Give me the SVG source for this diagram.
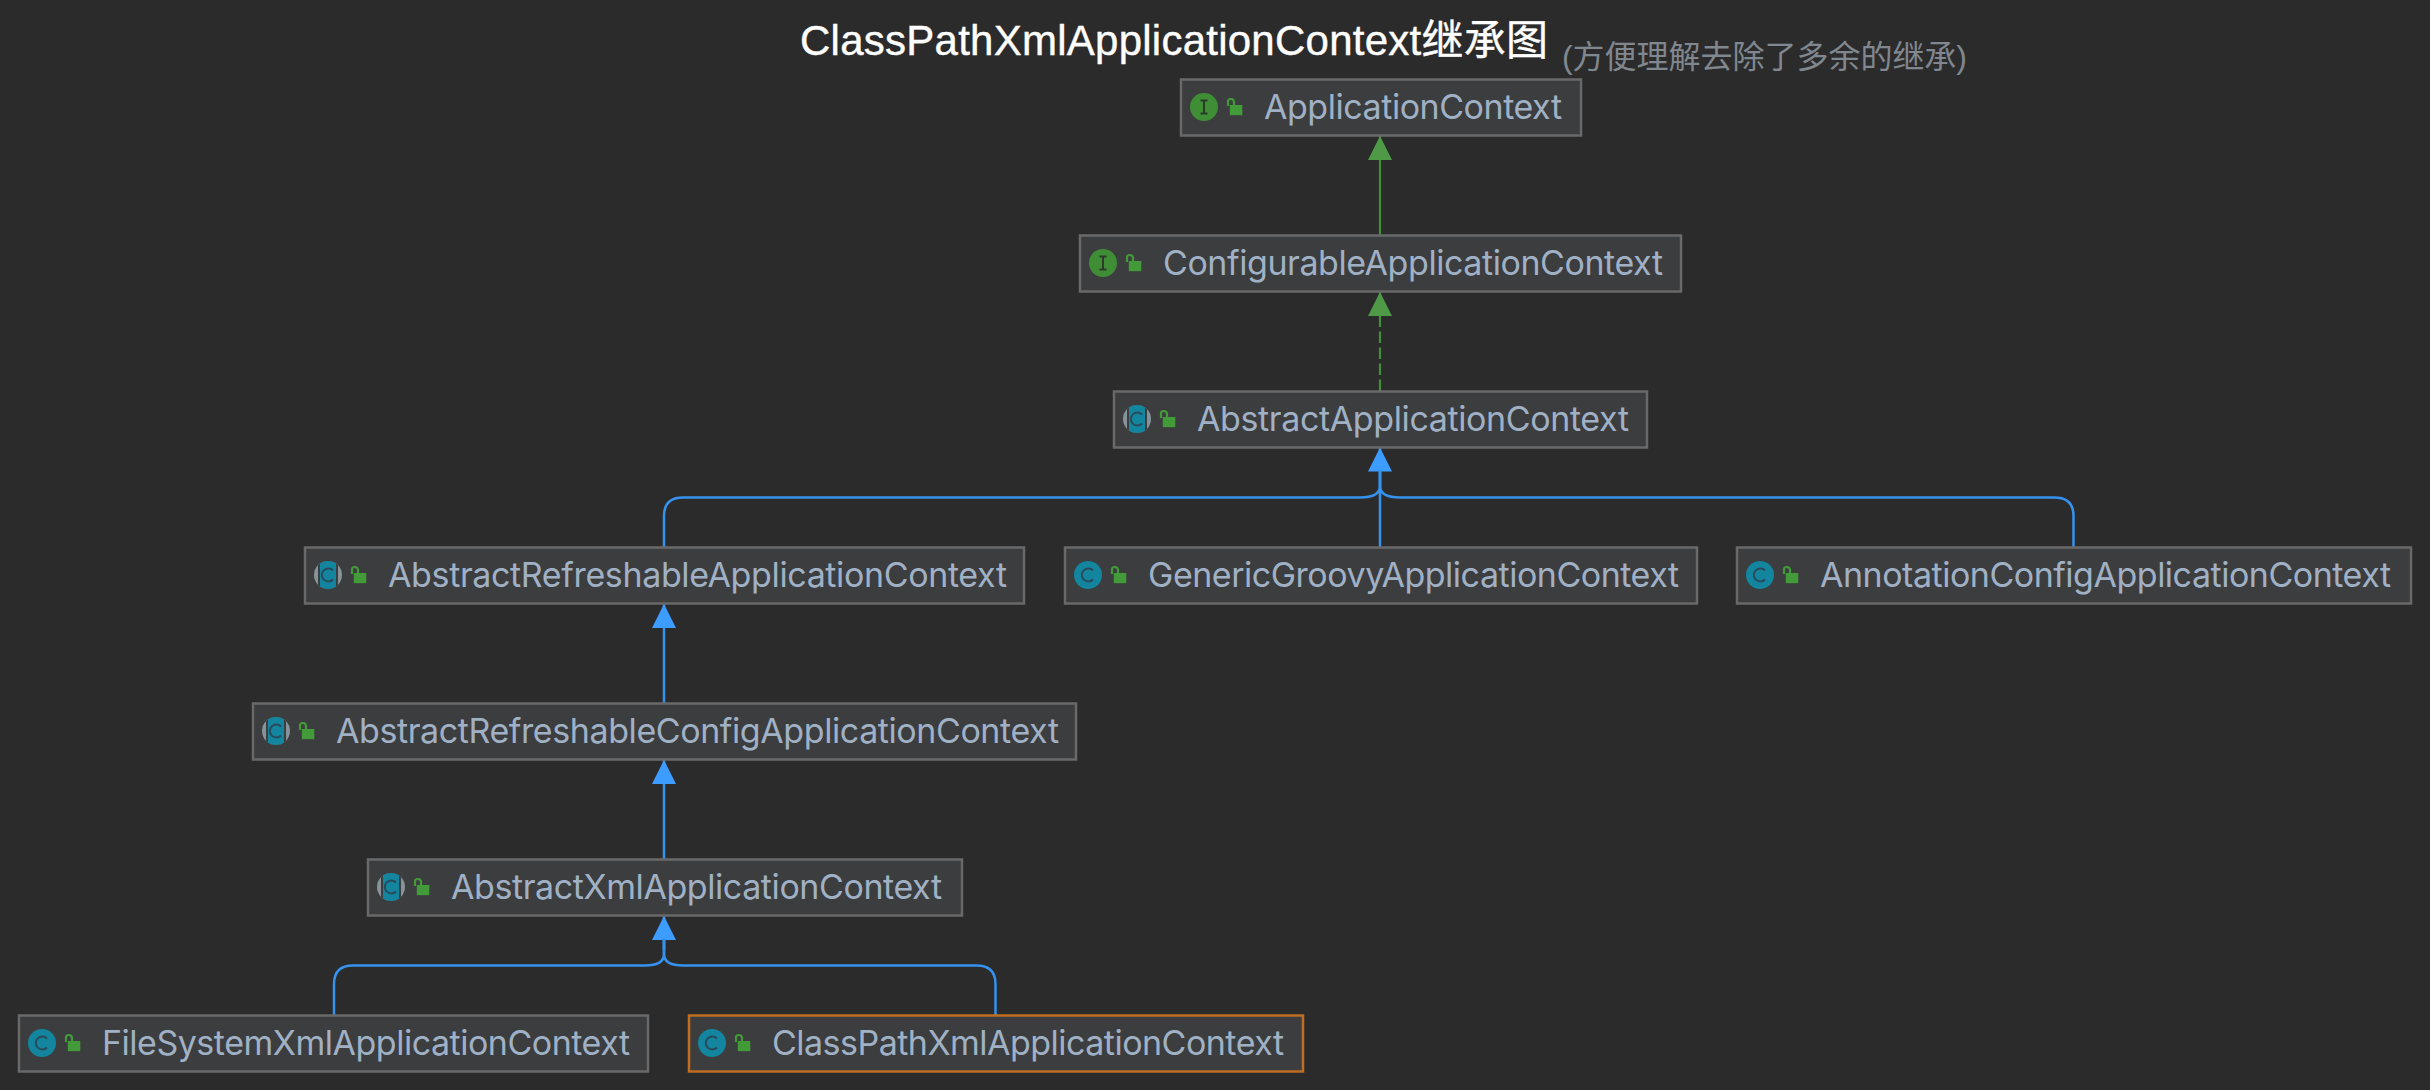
<svg xmlns="http://www.w3.org/2000/svg" xmlns:xlink="http://www.w3.org/1999/xlink" width="2430" height="1090" viewBox="0 0 2430 1090">
<style>
.box{fill:#3c3d3e;stroke:#69696a;stroke-width:2.5}
.sel{stroke:#bf6d20}
.lbl{font-family:Inter,"Noto Sans",sans-serif;font-size:34px;fill:#a0b1c5}
.blue{fill:none;stroke:#3592ee;stroke-width:2.5}
.green{fill:none;stroke:#438f3a;stroke-width:2.2}
.dash{stroke-dasharray:11.5 4.5}
</style>
<defs>
<clipPath id="cc"><circle cx="0" cy="0" r="14"/></clipPath>
<marker id="ab" markerUnits="userSpaceOnUse" markerWidth="24" markerHeight="24" refX="24" refY="12" orient="auto"><path d="M0 0L24 12L0 24Z" fill="#3d9cff"/></marker>
<marker id="ag" markerUnits="userSpaceOnUse" markerWidth="24" markerHeight="24" refX="24" refY="12" orient="auto"><path d="M0 0L24 12L0 24Z" fill="#4f9a47"/></marker>
<g id="lock"><rect x="25.8" y="-2" width="12.5" height="10.2" fill="#429a38"/><path d="M24 -1V-5.5Q24-8 26.8-8T30-5.5V-2" fill="none" stroke="#429a38" stroke-width="2.2"/></g>
<g id="ic-i"><circle r="14" fill="#3f8e36"/><path d="M-3.5-6.5H3.5M-3.5 6.5H3.5M0-6.5V6.5" stroke="#2c3a2a" stroke-width="2" fill="none"/><use href="#lock"/></g>
<g id="ic-c"><circle r="14" fill="#13859f"/><path d="M5-4.5A6.5 6.5 0 1 0 5 4.5" stroke="#2a4a5a" stroke-width="2" fill="none"/><use href="#lock"/></g>
<g id="ic-a"><circle r="14" fill="#87939a"/><g clip-path="url(#cc)"><rect x="-10" y="-14" width="20" height="28" fill="#3c3d3e"/><rect x="-8" y="-14" width="16" height="28" fill="#13859f"/></g><path d="M5-4.5A6.5 6.5 0 1 0 5 4.5" stroke="#2a4a5a" stroke-width="2" fill="none"/><use href="#lock"/></g>
</defs>
<rect width="2430" height="1090" fill="#2b2b2b"/>
<g id="title">
<text x="800" y="55" font-family="'Liberation Sans','Noto Sans CJK SC',sans-serif" font-size="42" fill="#ffffff" stroke="#ffffff" stroke-width="0.4" textLength="748" lengthAdjust="spacing">ClassPathXmlApplicationContext继承图</text>
<text x="1562" y="68" font-family="'Liberation Sans','Noto Sans CJK SC',sans-serif" font-size="32" fill="#80878f" textLength="405" lengthAdjust="spacing">(方便理解去除了多余的继承)</text>
</g>
<g id="connectors">
<path class="green" marker-end="url(#ag)" d="M1380 235V136"/>
<path class="green dash" marker-end="url(#ag)" d="M1380 391V292"/>
<path class="blue" marker-end="url(#ab)" d="M1380 547V447.5"/>
<path class="blue" d="M664 547V516Q664 497.5 683 497.5H1360Q1380 497.5 1380 486V470"/>
<path class="blue" d="M2073.5 547V516Q2073.5 497.5 2054.5 497.5H1400Q1380 497.5 1380 486V470"/>
<path class="blue" marker-end="url(#ab)" d="M664 703V604"/>
<path class="blue" marker-end="url(#ab)" d="M664 859V760"/>
<path class="blue" marker-end="url(#ab)" d="M664 950V916"/>
<path class="blue" d="M334 1015V984Q334 965.5 353 965.5H645Q664 965.5 664 954V938"/>
<path class="blue" d="M995.5 1015V984Q995.5 965.5 976.5 965.5H683Q664 965.5 664 954V938"/>
</g>
<g id="n-applicationcontext"><rect class="box" x="1181" y="79.5" width="400" height="56"/><use href="#ic-i" x="1204" y="107"/><text class="lbl" x="1264" y="118.5" textLength="298" lengthAdjust="spacing">ApplicationContext</text></g>
<g id="n-configurable"><rect class="box" x="1080" y="235.5" width="601" height="56"/><use href="#ic-i" x="1103" y="263"/><text class="lbl" x="1163" y="274.5" textLength="500" lengthAdjust="spacing">ConfigurableApplicationContext</text></g>
<g id="n-abstract"><rect class="box" x="1114" y="391.5" width="533" height="56"/><use href="#ic-a" x="1137" y="419"/><text class="lbl" x="1197" y="430.5" textLength="432" lengthAdjust="spacing">AbstractApplicationContext</text></g>
<g id="n-refreshable"><rect class="box" x="305" y="547.5" width="719" height="56"/><use href="#ic-a" x="328" y="575"/><text class="lbl" x="388" y="586.5" textLength="619" lengthAdjust="spacing">AbstractRefreshableApplicationContext</text></g>
<g id="n-groovy"><rect class="box" x="1065" y="547.5" width="632" height="56"/><use href="#ic-c" x="1088" y="575"/><text class="lbl" x="1148" y="586.5" textLength="531" lengthAdjust="spacing">GenericGroovyApplicationContext</text></g>
<g id="n-annotation"><rect class="box" x="1737" y="547.5" width="674" height="56"/><use href="#ic-c" x="1760" y="575"/><text class="lbl" x="1820" y="586.5" textLength="571" lengthAdjust="spacing">AnnotationConfigApplicationContext</text></g>
<g id="n-refreshableconfig"><rect class="box" x="253" y="703.5" width="823" height="56"/><use href="#ic-a" x="276" y="731"/><text class="lbl" x="336" y="742.5" textLength="723" lengthAdjust="spacing">AbstractRefreshableConfigApplicationContext</text></g>
<g id="n-xml"><rect class="box" x="368" y="859.5" width="594" height="56"/><use href="#ic-a" x="391" y="887"/><text class="lbl" x="451" y="898.5" textLength="491" lengthAdjust="spacing">AbstractXmlApplicationContext</text></g>
<g id="n-filesystem"><rect class="box" x="19" y="1015.5" width="629" height="56"/><use href="#ic-c" x="42" y="1043"/><text class="lbl" x="102" y="1054.5" textLength="528" lengthAdjust="spacing">FileSystemXmlApplicationContext</text></g>
<g id="n-classpath"><rect class="box sel" x="689" y="1015.5" width="614" height="56"/><use href="#ic-c" x="712" y="1043"/><text class="lbl" x="772" y="1054.5" textLength="512" lengthAdjust="spacing">ClassPathXmlApplicationContext</text></g>
</svg>
